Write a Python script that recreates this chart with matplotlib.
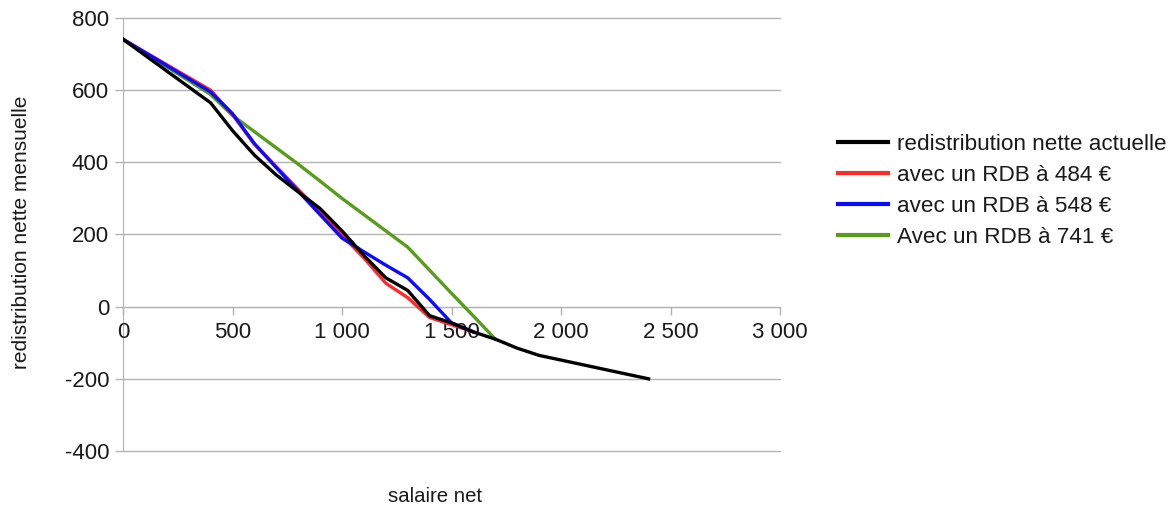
import matplotlib
matplotlib.use("Agg")
import matplotlib.pyplot as plt

plt.rcParams['font.family'] = ['Liberation Sans', 'DejaVu Sans']

# Data
salaire_black = [0, 400, 500, 600, 700, 800, 900, 1000, 1100, 1200, 1300, 1400, 1500,
                 1600, 1700, 1800, 1900, 2000, 2100, 2200, 2300, 2400]
actuelle = [741, 565, 488, 420, 365, 318, 272, 210, 142, 80, 45, -25, -45,
            -70, -90, -115, -135, -148, -161, -174, -187, -200]

salaire_red = [0, 400, 500, 600, 700, 800, 900, 1000, 1100, 1200, 1300, 1400, 1500, 1600]
rdb_484 = [741, 600, 532, 450, 388, 325, 262, 198, 135, 65, 25, -30, -50, -70]

salaire_blue = [0, 400, 500, 600, 700, 800, 900, 1000, 1100, 1200, 1300, 1400, 1500, 1600]
rdb_548 = [741, 595, 535, 452, 385, 320, 255, 190, 152, 115, 80, 20, -45, -70]

salaire_green = [0, 400, 500, 600, 700, 800, 900, 1000, 1100, 1200, 1300, 1400, 1500, 1600, 1700]
rdb_741 = [741, 588, 530, 485, 440, 395, 348, 300, 255, 210, 165, 101, 37, -26, -90]

series_labels = ['redistribution nette actuelle', 'avec un RDB à 484 €',
                 'avec un RDB à 548 €', 'Avec un RDB à 741 €']
x_ticks = [0, 500, 1000, 1500, 2000, 2500, 3000]
x_tick_labels = ['0', '500', '1 000', '1 500', '2 000', '2 500', '3 000']
y_ticks = [-400, -200, 0, 200, 400, 600, 800]
y_tick_labels = ['-400', '-200', '0', '200', '400', '600', '800']

W, H = 1173, 508
fig = plt.figure(figsize=(W / 100, H / 100), dpi=100)
ax = fig.add_axes([123 / W, 1 - 451 / H, (780 - 123) / W, (451 - 18) / H])

grid_c = '#b3b3b3'
for yv in y_ticks:
    ax.axhline(yv, color=grid_c, lw=1.0, zorder=1, clip_on=False)

lw = 2.4
l_black, = ax.plot(salaire_black, actuelle, color='#000000', lw=lw, zorder=6, solid_joinstyle='round')
l_red, = ax.plot(salaire_red, rdb_484, color='#ff2a2a', lw=lw, zorder=3, solid_joinstyle='round')
l_blue, = ax.plot(salaire_blue, rdb_548, color='#0a0aff', lw=lw, zorder=4, solid_joinstyle='round')
l_green, = ax.plot(salaire_green, rdb_741, color='#579d1c', lw=lw, zorder=2, solid_joinstyle='round')

ax.set_xlim(0, 3000)
ax.set_ylim(-400, 800)

for s in ['top', 'right']:
    ax.spines[s].set_visible(False)
ax.spines['bottom'].set_position(('data', 0))
ax.spines['bottom'].set_color(grid_c)
ax.spines['left'].set_color(grid_c)
ax.spines['bottom'].set_zorder(1)
ax.spines['left'].set_zorder(1)

ax.set_xticks(x_ticks)
ax.set_xticklabels(x_tick_labels)
ax.set_yticks(y_ticks)
ax.set_yticklabels(y_tick_labels)
ax.tick_params(axis='both', colors=grid_c, labelcolor='#1a1a1a', labelsize=16,
               length=6, width=1.0, direction='out')
ax.tick_params(axis='x', pad=5)
ax.tick_params(axis='y', pad=4)

fig.text(22 / W, 1 - 232 / H, 'redistribution nette mensuelle', rotation=90,
         ha='center', va='center', fontsize=15, color='#1a1a1a')
fig.text(435 / W, 1 - 497 / H, 'salaire net', ha='center', va='center',
         fontsize=14.7, color='#1a1a1a')

leg = fig.legend([l_black, l_red, l_blue, l_green], series_labels,
                 loc='upper left', bbox_to_anchor=(838 / W, 1 - 134 / H),
                 frameon=False, fontsize=16.2, handlelength=2.22,
                 handletextpad=0.4, labelspacing=0.44, borderpad=0, borderaxespad=0)
for t in leg.get_texts():
    t.set_color('#1a1a1a')
for h in leg.get_lines():
    h.set_linewidth(3)

fig.savefig('out.png', dpi=100)
